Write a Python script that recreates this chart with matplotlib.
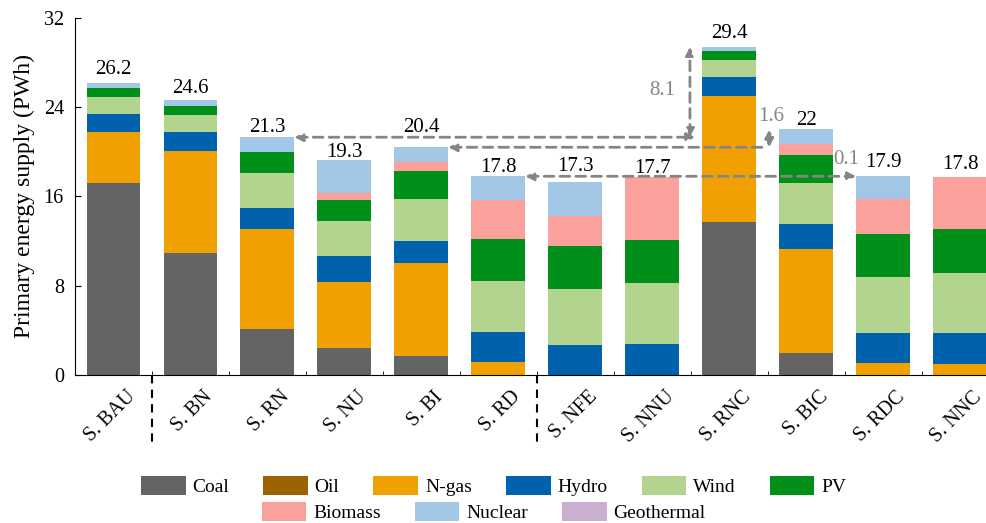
import numpy as np
from matplotlib import pyplot as plt
from matplotlib.patches import Patch

plt.rcParams['font.family'] = ['Liberation Serif', 'DejaVu Serif']

scenarios = ["S. BAU", "S. BN", "S. RN", "S. NU", "S. BI", "S. RD",
             "S. NFE", "S. NNU", "S. RNC", "S. BIC", "S. RDC", "S. NNC"]
totals = [26.2, 24.6, 21.3, 19.3, 20.4, 17.8, 17.3, 17.7, 29.4, 22, 17.9, 17.8]
total_labels = ["26.2", "24.6", "21.3", "19.3", "20.4", "17.8",
                "17.3", "17.7", "29.4", "22", "17.9", "17.8"]

sources = ["Coal", "Oil", "N-gas", "Hydro", "Wind", "PV",
           "Biomass", "Nuclear", "Geothermal"]
coal       = [17.2, 10.9, 4.1, 2.4, 1.7, 0.0, 0.0, 0.0, 13.7, 1.95, 0.0, 0.0]
oil        = [0.0] * 12
ngas       = [4.6, 9.2, 9.0, 5.9, 8.3, 1.2, 0.0, 0.0, 11.3, 9.35, 1.1, 1.0]
hydro      = [1.6, 1.7, 1.9, 2.4, 2.0, 2.65, 2.65, 2.75, 1.7, 2.2, 2.65, 2.8]
wind       = [1.5, 1.5, 3.1, 3.1, 3.8, 4.55, 5.05, 5.45, 1.5, 3.7, 5.05, 5.35]
pv         = [0.8, 0.8, 1.9, 1.9, 2.5, 3.8, 3.85, 3.85, 0.8, 2.55, 3.85, 3.95]
biomass    = [0.0, 0.0, 0.0, 0.6, 0.8, 3.5, 2.65, 5.65, 0.0, 0.95, 3.1, 4.65]
nuclear    = [0.5, 0.5, 1.3, 3.0, 1.3, 2.1, 3.05, 0.0, 0.4, 1.3, 2.1, 0.0]
geothermal = [0.0] * 12

colors = ["#646464", "#9c6400", "#f0a000", "#0061ac", "#b2d48f",
          "#00901a", "#f9a19a", "#a2c6e6", "#c9b0d1"]

# lift of each total label above its bar (points)
label_lift = [6, 5, 4, 2, 11, 3, 8, 3, 6, 3, 6, 6]

arrow_gray = "#858585"

fig = plt.figure(figsize=(9.87, 5.23), dpi=100)
ax = fig.add_axes([0.076, 0.283, 0.924, 0.683])

x = np.arange(len(scenarios))
width = 0.7
bottom = np.zeros(len(scenarios))
series = [coal, oil, ngas, hydro, wind, pv, biomass, nuclear, geothermal]
for vals, col in zip(series, colors):
    vals = np.array(vals)
    ax.bar(x, vals, width, bottom=bottom, color=col, linewidth=0, zorder=2)
    bottom += vals

for i in range(len(scenarios)):
    ax.annotate(total_labels[i], (x[i], bottom[i]), xytext=(0, label_lift[i]),
                textcoords="offset points", ha="center", va="baseline",
                fontsize=15, zorder=5)


def dashed_arrow(x0, y0, x1, y1, style):
    ax.annotate("", xy=(x1, y1), xytext=(x0, y0),
                arrowprops=dict(arrowstyle=style, color=arrow_gray, lw=2,
                                linestyle=(0, (3.5, 2.2)), mutation_scale=12,
                                shrinkA=0, shrinkB=0),
                zorder=4)


hw = width / 2
# RN level -> RNC
dashed_arrow(x[2] + hw, totals[2], 7.56, totals[2], "<|-|>")
dashed_arrow(7.49, totals[2], 7.49, totals[8], "<|-|>")
# BI level -> BIC
dashed_arrow(x[4] + hw, totals[4], 8.5, totals[4], "<|-")
dashed_arrow(8.52, totals[4], 8.52, totals[9], "<|-|>")
# RD level -> RDC
dashed_arrow(x[5] + hw, totals[5], x[10] - hw, totals[5], "<|-|>")

ax.text(7.13, 25.5, "8.1", color=arrow_gray, fontsize=15, ha="center", va="center")
ax.text(8.54, 23.2, "1.6", color=arrow_gray, fontsize=15, ha="center", va="center")
ax.text(9.52, 19.3, "0.1", color=arrow_gray, fontsize=15, ha="center", va="center")

ax.set_xlim(-0.5, 11.35)
ax.set_ylim(0, 32)
ax.set_yticks([0, 8, 16, 24, 32])
ax.set_xticks(x)
ax.set_xticklabels([])
ax.set_xticks(np.arange(0.5, 11, 1), minor=True)
ax.tick_params(axis="x", which="major", length=0)
ax.tick_params(axis="x", which="minor", direction="in", length=3)
ax.tick_params(axis="y", direction="in", length=4, labelsize=14.5, pad=8)
ax.set_ylabel("Primary energy supply (PWh)", fontsize=17, labelpad=6)

# rotated scenario names, ending just right of each bar centre
for xi, name in zip(x, scenarios):
    ax.annotate(name, (xi, 0), xycoords=("data", "axes fraction"),
                xytext=(9, -9), textcoords="offset points",
                rotation=45, rotation_mode="anchor", ha="right", va="top",
                fontsize=14.5)

for side in ["top", "right"]:
    ax.spines[side].set_visible(False)

# group separators below the axis
for sep in [0.5, 5.5]:
    ax.plot([sep, sep], [0, -6.5], color="black", lw=1.5,
            linestyle=(0, (4, 3)), clip_on=False)

handles = [Patch(facecolor=c, edgecolor="none") for c in colors]
fig.legend(handles[:6], sources[:6], loc="center", ncol=6,
           bbox_to_anchor=(0.5, 0.071), frameon=False, fontsize=14,
           handlelength=2.3, handleheight=1.15, handletextpad=0.35,
           columnspacing=1.75, borderpad=0)
fig.legend(handles[6:], sources[6:], loc="center", ncol=3,
           bbox_to_anchor=(0.49, 0.021), frameon=False, fontsize=14,
           handlelength=2.3, handleheight=1.15, handletextpad=0.35,
           columnspacing=1.75, borderpad=0)

fig.savefig("out.png", dpi=100)
